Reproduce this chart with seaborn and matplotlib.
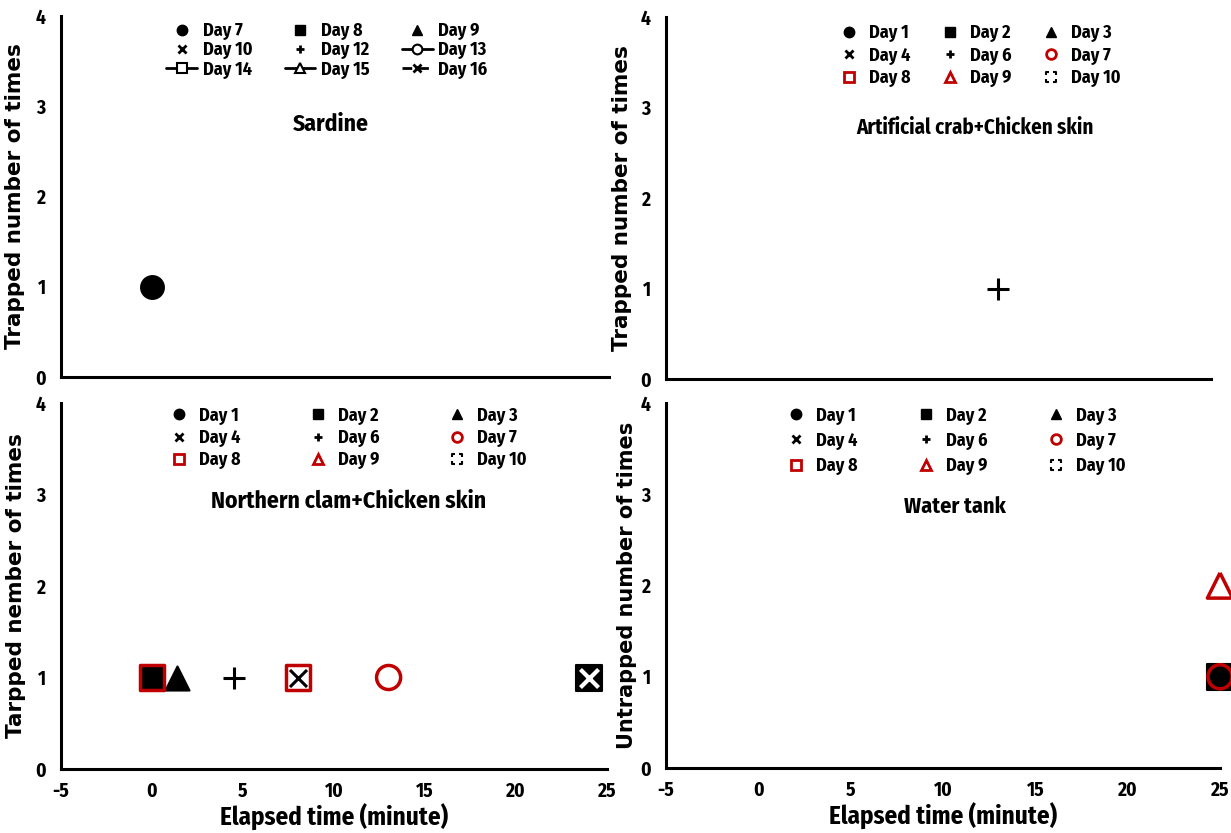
import numpy as np
import matplotlib
matplotlib.use("Agg")
import matplotlib.pyplot as plt
from matplotlib.lines import Line2D
from matplotlib.path import Path
import seaborn as sns

sns.set_theme(style="white")
NARROW = ['Fira Sans Condensed', 'PT Sans Narrow', 'Liberation Sans', 'DejaVu Sans']
WIDE = ['DejaVu Sans']
plt.rcParams['font.family'] = NARROW
plt.rcParams['font.weight'] = 'bold'
plt.rcParams['text.color'] = 'black'
plt.rcParams['axes.labelcolor'] = 'black'
plt.rcParams['xtick.color'] = 'black'
plt.rcParams['ytick.color'] = 'black'
plt.rcParams['axes.unicode_minus'] = False

RED = "#C00000"

# ---------------- data ----------------
sardine_day7_x = [0.0]
sardine_day7_y = [1]

crab_day6_x = [13.3]
crab_day6_y = [1]

clam_day1_x = [0.0]; clam_day1_y = [1]
clam_day2_x = [0.0]; clam_day2_y = [1]
clam_day3_x = [1.4]; clam_day3_y = [1]
clam_day4_x = [8.0]; clam_day4_y = [1]
clam_day6_x = [4.5]; clam_day6_y = [1]
clam_day7_x = [13.0]; clam_day7_y = [1]
clam_day8_x = [0.0, 8.0]; clam_day8_y = [1, 1]
clam_day10_x = [24.0]; clam_day10_y = [1]

tank_day1_x = [25.0]; tank_day1_y = [1]
tank_day2_x = [25.0]; tank_day2_y = [1]
tank_day7_x = [25.0]; tank_day7_y = [1]
tank_day9_x = [25.0]; tank_day9_y = [2]

sardine_days = ["Day 7", "Day 8", "Day 9", "Day 10", "Day 12", "Day 13", "Day 14", "Day 15", "Day 16"]
other_days = ["Day 1", "Day 2", "Day 3", "Day 4", "Day 6", "Day 7", "Day 8", "Day 9", "Day 10"]

panel_titles = ["Sardine", "Artificial crab+Chicken skin", "Northern clam+Chicken skin", "Water tank"]
y_labels = ["Trapped number of times", "Trapped number of times",
            "Tarpped nember of times", "Untrapped number of times"]
x_label = "Elapsed time (minute)"

x_ticks = [-5, 0, 5, 10, 15, 20, 25]
y_ticks = [0, 1, 2, 3, 4]

# row-major order for a 3-column legend (matplotlib fills column-wise)
ORDER = [0, 3, 6, 1, 4, 7, 2, 5, 8]

# custom "Day 10" marker: square outline with gaps mid-side
verts, codes = [], []
g = 0.35
for (cx, cy) in [(-1, -1), (1, -1), (1, 1), (-1, 1)]:
    verts += [(cx, cy * g), (cx, cy), (cx * g, cy)]
    codes += [Path.MOVETO, Path.LINETO, Path.LINETO]
bracket_marker = Path(verts, codes)

fig = plt.figure(figsize=(12.31, 8.33), dpi=100)
W, H = 1231.0, 833.0

def rect(l, r, b, t):
    return [l / W, 1 - b / H, (r - l) / W, (b - t) / H]

axes = {
    "tl": fig.add_axes(rect(61, 609, 377, 16)),
    "tr": fig.add_axes(rect(666, 1211, 379, 17)),
    "bl": fig.add_axes(rect(61, 607, 769, 403)),
    "br": fig.add_axes(rect(666, 1220, 768, 403)),
}

def style(ax, ylabel, show_x, ylab_x, yfs=15.5):
    ax.set_xlim(-5, 25)
    ax.set_ylim(0, 4)
    ax.set_xticks(x_ticks)
    ax.set_yticks(y_ticks)
    for s in ["top", "right"]:
        ax.spines[s].set_visible(False)
    for s in ["left", "bottom"]:
        ax.spines[s].set_linewidth(2.2)
        ax.spines[s].set_color("black")
    ax.tick_params(direction='in', length=4, width=1.8, colors='black', labelsize=14)
    ax.tick_params(axis='y', pad=11)
    ax.tick_params(axis='x', pad=9)
    for lab in ax.get_xticklabels() + ax.get_yticklabels():
        lab.set_fontweight('bold')
    if not show_x:
        ax.tick_params(labelbottom=False)
    else:
        ax.set_xlabel(x_label, fontsize=18, fontweight='bold', labelpad=2)
    ax.set_ylabel(ylabel, fontsize=yfs, fontweight='bold', family=WIDE)
    ax.yaxis.set_label_coords(ylab_x, 0.5)
    ax.set_facecolor("white")

def pts(ax, x, y, marker, s, face, edge, lw=1.5, z=3):
    sns.scatterplot(x=x, y=y, marker=marker, s=s, color=face, edgecolor=edge,
                    linewidth=lw, ax=ax, zorder=z, clip_on=False, legend=False)

def add_legend(ax, handles, labels, xc, top, lsp, csp, hl, htp):
    h = [handles[i] for i in ORDER]
    l = [labels[i] for i in ORDER]
    leg = ax.legend(h, l, ncol=3, loc='upper center', bbox_to_anchor=(xc, top),
                    frameon=False, fontsize=13, handlelength=hl, handletextpad=htp,
                    columnspacing=csp, labelspacing=lsp, borderpad=0.0)
    for t in leg.get_texts():
        t.set_fontweight('bold')

def title(ax, x, y, text, fs):
    ax.text(x, y, text, transform=ax.transAxes, ha='center', va='center',
            fontsize=fs, fontweight='bold')

ms = 7.5

# ---- Sardine ----
ax = axes["tl"]
style(ax, y_labels[0], False, -0.066)
pts(ax, sardine_day7_x, sardine_day7_y, 'o', 270, 'black', 'black')
title(ax, 0.493, 0.70, panel_titles[0], 17)
h_sar = [
    Line2D([], [], ls='none', marker='o', color='black', ms=ms),
    Line2D([], [], ls='none', marker='s', color='black', ms=ms),
    Line2D([], [], ls='none', marker='^', color='black', ms=ms),
    Line2D([], [], ls='none', marker='x', color='black', ms=5.5, mew=2),
    Line2D([], [], ls='none', marker='+', color='black', ms=5.5, mew=2),
    Line2D([], [], ls='-', lw=2, marker='o', color='black', mfc='white', ms=7, mew=1.5),
    Line2D([], [], ls='-', lw=2, marker='s', color='black', mfc='white', ms=7, mew=1.5),
    Line2D([], [], ls='-', lw=2, marker='^', color='black', mfc='white', ms=7, mew=1.5),
    Line2D([], [], ls='--', lw=2, marker='x', color='black', ms=6, mew=2, dashes=(3.5, 2.5)),
]
add_legend(ax, h_sar, sardine_days, 0.485, 1.008, 0.07, 1.8, 1.7, 0.3)

def other_handles():
    return [
        Line2D([], [], ls='none', marker='o', color='black', ms=ms),
        Line2D([], [], ls='none', marker='s', color='black', ms=ms),
        Line2D([], [], ls='none', marker='^', color='black', ms=ms),
        Line2D([], [], ls='none', marker='x', color='black', ms=5.5, mew=2),
        Line2D([], [], ls='none', marker='+', color='black', ms=5.5, mew=2),
        Line2D([], [], ls='none', marker='o', mfc='white', mec=RED, ms=7, mew=2),
        Line2D([], [], ls='none', marker='s', mfc='white', mec=RED, ms=7, mew=2),
        Line2D([], [], ls='none', marker='^', mfc='white', mec=RED, ms=7, mew=2),
        Line2D([], [], ls='none', marker=bracket_marker, mfc='none', mec='black', ms=7, mew=1.5),
    ]

# ---- Artificial crab ----
ax = axes["tr"]
style(ax, y_labels[1], False, -0.062)
pts(ax, crab_day6_x, crab_day6_y, '+', 260, 'black', 'black', lw=2.2)
title(ax, 0.567, 0.695, panel_titles[1], 15)
add_legend(ax, other_handles(), other_days, 0.575, 1.005, 0.24, 1.6, 1.2, 0.5)

# ---- Northern clam ----
ax = axes["bl"]
style(ax, y_labels[2], True, -0.064)
pts(ax, clam_day1_x, clam_day1_y, 'o', 200, 'black', 'black')
pts(ax, clam_day2_x, clam_day2_y, 's', 230, 'black', 'black')
pts(ax, clam_day8_x, clam_day8_y, 's', 300, 'none', RED, lw=2.5, z=4)
pts(ax, clam_day3_x, clam_day3_y, '^', 300, 'black', 'black')
pts(ax, clam_day6_x, clam_day6_y, '+', 260, 'black', 'black', lw=2.2)
pts(ax, clam_day4_x, clam_day4_y, 'x', 150, 'black', 'black', lw=2.2, z=5)
pts(ax, clam_day7_x, clam_day7_y, 'o', 300, 'none', RED, lw=2.5)
pts(ax, clam_day10_x, clam_day10_y, 's', 330, 'black', 'black')
pts(ax, clam_day10_x, clam_day10_y, 'x', 170, 'white', 'white', lw=3, z=5)
title(ax, 0.527, 0.73, panel_titles[2], 17)
add_legend(ax, other_handles(), other_days, 0.524, 1.015, 0.24, 3.7, 1.2, 0.5)

# ---- Water tank ----
ax = axes["br"]
style(ax, y_labels[3], True, -0.052, yfs=15)
pts(ax, tank_day2_x, tank_day2_y, 's', 330, 'black', 'black')
pts(ax, tank_day1_x, tank_day1_y, 'o', 260, 'black', 'black')
pts(ax, tank_day7_x, tank_day7_y, 'o', 300, 'none', RED, lw=2.5, z=4)
pts(ax, tank_day9_x, tank_day9_y, '^', 330, 'none', RED, lw=2.5)
title(ax, 0.522, 0.715, panel_titles[3], 16)
add_legend(ax, other_handles(), other_days, 0.522, 1.015, 0.4, 3.2, 1.2, 0.5)

fig.savefig("out.png", dpi=100, facecolor="white")
